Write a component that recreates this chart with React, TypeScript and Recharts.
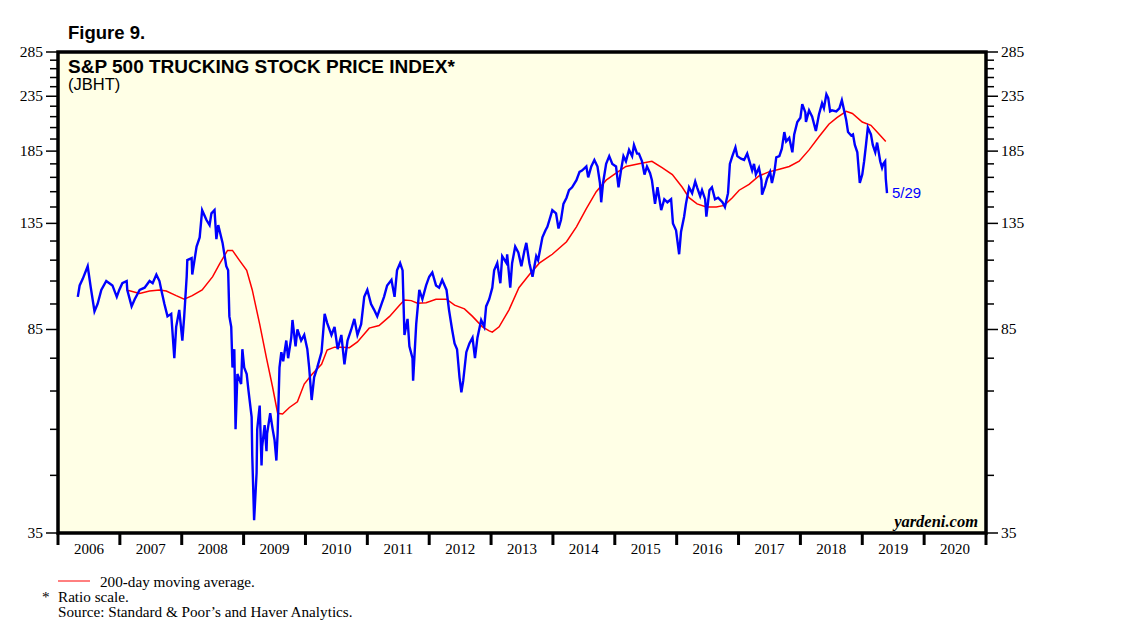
import React from "react";
import {
  LineChart, Line, XAxis, YAxis, CartesianGrid, ReferenceArea, LabelList,
} from "recharts";

// JBHT daily index (decimal years)
const jbhtDates = [
  2006.32, 2006.35, 2006.40, 2006.48, 2006.53, 2006.59, 2006.64, 2006.70, 2006.78, 2006.83,
  2006.88, 2006.95, 2006.99, 2007.04, 2007.11, 2007.12, 2007.19, 2007.24, 2007.32, 2007.40,
  2007.48, 2007.53, 2007.59, 2007.64, 2007.67, 2007.72, 2007.77, 2007.83, 2007.88, 2007.91,
  2007.96, 2008.01, 2008.04, 2008.08, 2008.09, 2008.16, 2008.17, 2008.24, 2008.29, 2008.33,
  2008.40, 2008.45, 2008.48, 2008.53, 2008.56, 2008.59, 2008.66, 2008.72, 2008.75, 2008.77,
  2008.80, 2008.82, 2008.85, 2008.87, 2008.90, 2008.96, 2008.98, 2009.01, 2009.05, 2009.08,
  2009.13, 2009.14, 2009.17, 2009.21, 2009.22, 2009.26, 2009.29, 2009.30, 2009.34, 2009.37,
  2009.38, 2009.43, 2009.47, 2009.50, 2009.53, 2009.55, 2009.58, 2009.61, 2009.64, 2009.69,
  2009.72, 2009.77, 2009.79, 2009.84, 2009.87, 2009.93, 2009.98, 2010.03, 2010.06, 2010.10,
  2010.14, 2010.19, 2010.26, 2010.31, 2010.35, 2010.42, 2010.47, 2010.52, 2010.58, 2010.63,
  2010.68, 2010.74, 2010.79, 2010.84, 2010.90, 2010.95, 2011.00, 2011.06, 2011.11, 2011.16,
  2011.23, 2011.27, 2011.32, 2011.39, 2011.44, 2011.48, 2011.53, 2011.57, 2011.60, 2011.65,
  2011.68, 2011.73, 2011.74, 2011.79, 2011.84, 2011.89, 2011.95, 2012.00, 2012.05, 2012.11,
  2012.16, 2012.21, 2012.28, 2012.32, 2012.37, 2012.41, 2012.45, 2012.49, 2012.52, 2012.55,
  2012.60, 2012.65, 2012.70, 2012.74, 2012.78, 2012.84, 2012.89, 2012.92, 2012.97, 2013.02,
  2013.05, 2013.10, 2013.15, 2013.18, 2013.25, 2013.26, 2013.31, 2013.34, 2013.39, 2013.44,
  2013.49, 2013.54, 2013.57, 2013.62, 2013.67, 2013.73, 2013.76, 2013.83, 2013.88, 2013.91,
  2013.96, 2013.99, 2014.05, 2014.09, 2014.13, 2014.17, 2014.22, 2014.26, 2014.31, 2014.38,
  2014.43, 2014.47, 2014.54, 2014.57, 2014.62, 2014.67, 2014.72, 2014.76, 2014.78, 2014.81,
  2014.86, 2014.91, 2014.96, 2015.02, 2015.06, 2015.10, 2015.14, 2015.18, 2015.23, 2015.28,
  2015.31, 2015.36, 2015.39, 2015.44, 2015.48, 2015.52, 2015.57, 2015.60, 2015.65, 2015.69,
  2015.75, 2015.80, 2015.85, 2015.91, 2015.94, 2015.99, 2016.04, 2016.07, 2016.12, 2016.15,
  2016.20, 2016.25, 2016.30, 2016.33, 2016.38, 2016.41, 2016.46, 2016.48, 2016.53, 2016.57,
  2016.62, 2016.67, 2016.74, 2016.78, 2016.83, 2016.86, 2016.90, 2016.95, 2016.98, 2017.04,
  2017.09, 2017.14, 2017.17, 2017.22, 2017.25, 2017.28, 2017.33, 2017.37, 2017.38, 2017.43,
  2017.46, 2017.51, 2017.54, 2017.58, 2017.61, 2017.66, 2017.70, 2017.74, 2017.77, 2017.82,
  2017.87, 2017.90, 2017.95, 2018.00, 2018.03, 2018.08, 2018.09, 2018.14, 2018.19, 2018.25,
  2018.30, 2018.35, 2018.38, 2018.42, 2018.45, 2018.48, 2018.51, 2018.58, 2018.63, 2018.67,
  2018.71, 2018.74, 2018.77, 2018.82, 2018.85, 2018.88, 2018.92, 2018.96, 2019.00, 2019.03,
  2019.06, 2019.09, 2019.14, 2019.17, 2019.21, 2019.24, 2019.29, 2019.32, 2019.34, 2019.37,
  2019.38, 2019.40,
];
const jbhtValues = [
  98, 103, 106, 112, 102, 92, 95, 101, 105, 104,
  103, 98, 101, 104, 105, 101, 94, 97, 101, 102,
  105, 104, 108, 105, 101, 95, 90, 91, 75, 86,
  92.6, 81, 90, 107, 115, 116, 108, 122, 127, 143,
  137, 134, 141, 143, 126, 134, 124, 112, 110, 90,
  86, 72, 78, 55, 70, 67, 78, 72, 70, 65,
  58, 49, 37, 45.5, 55, 61, 47, 51, 56, 50,
  54, 59, 55, 52.5, 48, 54, 72, 77, 74, 81,
  75, 82, 88.6, 79, 85, 81, 83, 78, 72, 62.5,
  69, 72, 77, 91, 87.5, 83, 86, 78, 83, 73,
  81, 85, 89, 83, 87, 98, 101, 95, 92.6, 90,
  95, 98, 103, 105.5, 98, 110, 113.5, 110, 83, 89,
  79, 75, 68, 87, 101, 97, 103, 107, 109, 103,
  102, 105.5, 101, 92.6, 85, 80, 78, 69, 64.6, 68,
  77, 80, 82, 75, 82, 88.6, 86, 94, 97, 102,
  110, 113.5, 104, 117, 113.5, 118, 102, 113.5, 122, 119,
  112, 120, 124, 113.5, 107, 117, 115, 127, 131, 133,
  139, 143, 141, 132, 137, 147, 151, 156, 158, 163,
  169, 170, 173, 165, 173, 178, 173, 161, 148, 161,
  175, 181, 175, 173, 158, 170, 181, 177, 186, 181,
  190, 183, 183, 177, 167, 173, 168, 163, 147, 158,
  143, 150, 148, 150, 135, 131, 118, 130, 139, 147,
  158, 154, 162, 158, 152, 156, 150, 139, 156, 158,
  150, 151, 148, 145, 154, 175, 181, 188, 181, 179,
  178, 183, 178, 170, 175, 167, 172, 163, 153, 159,
  164, 169, 161, 169, 180, 181, 187, 201, 193, 196,
  184, 199, 210, 214, 227, 219, 210, 221, 215, 202,
  217, 228, 223, 237, 233, 220, 221, 220, 223, 231,
  220, 212, 201, 198, 199, 190, 184, 161, 167, 177,
  190, 205, 199, 190, 184, 192, 177, 172, 175, 177,
  164, 154,
];

// 200-day moving average
const maDates = [
  2007.11, 2007.32, 2007.48, 2007.64, 2007.75, 2007.91, 2008.04, 2008.17, 2008.33, 2008.50,
  2008.61, 2008.74, 2008.82, 2008.93, 2009.05, 2009.14, 2009.26, 2009.37, 2009.47, 2009.55,
  2009.63, 2009.74, 2009.87, 2009.98, 2010.11, 2010.26, 2010.35, 2010.47, 2010.60, 2010.71,
  2010.84, 2011.03, 2011.19, 2011.36, 2011.52, 2011.60, 2011.71, 2011.81, 2011.95, 2012.11,
  2012.28, 2012.41, 2012.57, 2012.70, 2012.86, 2012.97, 2013.02, 2013.13, 2013.29, 2013.45,
  2013.62, 2013.78, 2013.99, 2014.22, 2014.38, 2014.54, 2014.70, 2014.86, 2015.02, 2015.18,
  2015.39, 2015.60, 2015.77, 2015.93, 2016.09, 2016.20, 2016.33, 2016.48, 2016.64, 2016.77,
  2016.90, 2017.01, 2017.17, 2017.33, 2017.49, 2017.66, 2017.82, 2017.98, 2018.14, 2018.30,
  2018.46, 2018.59, 2018.74, 2018.84, 2019.00, 2019.14, 2019.24, 2019.38,
];
const maValues = [
  101, 99.5, 100.5, 101, 100.5, 98.5, 97, 98.5, 101, 107,
  113, 120, 120, 115, 110, 101, 87, 75, 66, 59,
  58.8, 60.5, 62, 67, 70, 73, 77.7, 78.7, 78.7, 78.5,
  80.5, 85.5, 86.5, 90, 94.5, 96.7, 96.4, 95.3, 95.5, 97,
  97, 94.5, 93, 90, 86, 84.5, 84, 86, 92.6, 102,
  108, 113.5, 118, 124.6, 133, 144, 155, 163, 168, 173,
  175, 177, 172, 167, 158, 151, 147, 145, 145, 146,
  151, 156, 160, 166, 169, 171, 173, 177, 186, 197,
  208, 214, 220, 218, 210, 207, 201, 193,
];

const yearTicks = [2006, 2007, 2008, 2009, 2010, 2011, 2012, 2013, 2014, 2015, 2016, 2017, 2018, 2019, 2020, 2021];
const yTicks = [35, 45, 55, 65, 75, 85, 95, 105, 115, 125, 135, 145, 155, 165, 175, 185, 195, 205, 215, 225, 235, 245, 255, 265, 275, 285];
const yMajor = [35, 85, 135, 185, 235, 285];

const jbht = jbhtDates.map((t, i) => ({ t, v: jbhtValues[i] }));
const ma = maDates.map((t, i) => ({ t, v: maValues[i] }));

const W = 1138;
const H = 634;
const PLOT_L = 58;
const PLOT_R = 986;
const YEAR_PX = (PLOT_R - PLOT_L) / 15;
const SERIF = "'Liberation Serif', 'Times New Roman', serif";
const SANS = "'Liberation Sans', Arial, sans-serif";

function YearTick({ x, y, payload }: any) {
  if (payload.value >= 2021) return null;
  return (
    <text x={x + YEAR_PX / 2} y={y + 7} textAnchor="middle" fontFamily={SERIF} fontSize={15} fill="#000">
      {payload.value}
    </text>
  );
}

function makeYTick(side: "left" | "right") {
  return function YTick({ x, y, payload }: any) {
    const v = payload.value;
    const major = yMajor.includes(v);
    const dir = side === "left" ? -1 : 1;
    const axisX = x - dir * 14;
    const len = major ? 12 : 8;
    return (
      <g>
        <line x1={axisX} x2={axisX + dir * len} y1={y} y2={y} stroke="#000" strokeWidth={1.5} />
        {major && (
          <text
            x={axisX + dir * 15}
            y={y + 5}
            textAnchor={side === "left" ? "end" : "start"}
            fontFamily={SERIF}
            fontSize={15.5}
            fill="#000"
          >
            {v}
          </text>
        )}
      </g>
    );
  };
}

function EndLabel({ x, y, index }: any) {
  if (index !== jbht.length - 1) return null;
  return (
    <text x={x + 5} y={y + 5} fontFamily={SANS} fontSize={15} fill="#0000ff">
      5/29
    </text>
  );
}

export default function App() {
  return (
    <div style={{ position: "absolute", left: 0, top: 0, width: W, height: H, background: "#fff" }}>
      <LineChart width={W} height={H} margin={{ top: 52, right: 102, bottom: 71, left: 8 }}>
        <CartesianGrid fill="#ffffe6" horizontal={false} vertical={false} yAxisId="left" />
        <XAxis
          dataKey="t"
          type="number"
          domain={[2006, 2021]}
          ticks={yearTicks}
          interval={0}
          allowDataOverflow
          axisLine={false}
          tickSize={12}
          tickLine={{ stroke: "#000", strokeWidth: 3 }}
          tick={<YearTick />}
          height={30}
        />
        <YAxis
          yAxisId="left"
          type="number"
          scale="log"
          domain={[35, 285]}
          allowDataOverflow
          ticks={yTicks}
          interval={0}
          axisLine={false}
          tickLine={false}
          tickSize={12}
          tickMargin={2}
          tick={makeYTick("left")}
          width={50}
        />
        <YAxis
          yAxisId="right"
          orientation="right"
          type="number"
          scale="log"
          domain={[35, 285]}
          allowDataOverflow
          ticks={yTicks}
          interval={0}
          axisLine={false}
          tickLine={false}
          tickSize={12}
          tickMargin={2}
          tick={makeYTick("right")}
          width={50}
        />
        <Line
          yAxisId="left"
          data={ma}
          dataKey="v"
          type="linear"
          stroke="#ff0000"
          strokeWidth={1.5}
          dot={false}
          isAnimationActive={false}
        />
        <Line
          yAxisId="left"
          data={jbht}
          dataKey="v"
          type="linear"
          stroke="#0000ff"
          strokeWidth={2.4}
          dot={false}
          isAnimationActive={false}
        >
          <LabelList dataKey="v" content={<EndLabel />} />
        </Line>
        <ReferenceArea
          yAxisId="left"
          x1={2006}
          x2={2021}
          y1={35}
          y2={285}
          fill="none"
          fillOpacity={0}
          stroke="#000"
          strokeWidth={3.5}
        />
      </LineChart>
      <svg width={W} height={H} style={{ position: "absolute", left: 0, top: 0, pointerEvents: "none" }}>
        <text x={68} y={39} fontFamily={SANS} fontWeight="bold" fontSize={18.5}>Figure 9.</text>
        <text x={68} y={73} fontFamily={SANS} fontWeight="bold" fontSize={19}>S&amp;P 500 TRUCKING STOCK PRICE INDEX*</text>
        <text x={68} y={90} fontFamily={SANS} fontSize={16.5}>(JBHT)</text>
        <text x={978} y={527} textAnchor="end" fontFamily={SERIF} fontStyle="italic" fontWeight="bold" fontSize={16.5}>yardeni.com</text>
        <line x1={58} x2={90} y1={581} y2={581} stroke="#ff0000" strokeWidth={1} />
        <text x={100} y={587} fontFamily={SERIF} fontSize={15.2}>200-day moving average.</text>
        <text x={42} y={602} fontFamily={SERIF} fontSize={15.2}>*</text>
        <text x={58} y={602} fontFamily={SERIF} fontSize={15.2}>Ratio scale.</text>
        <text x={58} y={617} fontFamily={SERIF} fontSize={15.2}>Source: Standard &amp; Poor’s and Haver Analytics.</text>
      </svg>
    </div>
  );
}
